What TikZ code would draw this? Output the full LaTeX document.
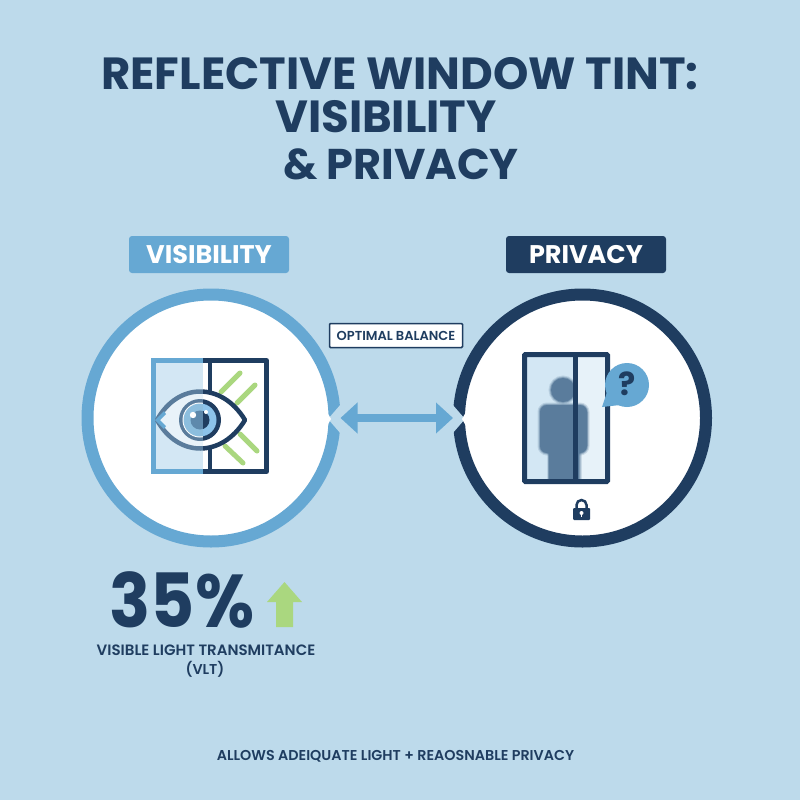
\documentclass[tikz,border=0pt]{standalone}
\usepackage{fontspec}
\setmainfont{Poppins}
\newfontfamily\semifont{Poppins SemiBold}
\usetikzlibrary{arrows.meta}
\definecolor{bgblue}{HTML}{BDDAEB}
\definecolor{navy}{HTML}{1F3D60}
\definecolor{midblue}{HTML}{66A8D3}
\definecolor{paleblue}{HTML}{D3E7F4}
\definecolor{softgreen}{HTML}{AAD77F}
\definecolor{blurblue}{HTML}{5A7C9C}
\definecolor{irisblue}{HTML}{8CC3EA}
\newcommand{\eyeshape}{(157,420) .. controls (178,382) and (222,382) .. (245,420) .. controls (222,458) and (178,458) .. (157,420) -- cycle}
\tikzset{
    titletext/.style={text=navy, font=\fontsize{45}{45}\selectfont\bfseries, inner sep=0pt},
    badge/.style={minimum width=160pt, minimum height=37pt, inner sep=0pt, rounded corners=3pt, text=white, font=\fontsize{25.5}{25.5}\selectfont\bfseries},
    ring/.style={circle, fill=white, line width=12pt, minimum size=247pt, inner sep=0pt},
    smalltext/.style={text=navy, font=\fontsize{14.3}{14.3}\selectfont\semifont, inner sep=0pt},
    sunline/.style={softgreen, line width=5pt, line cap=round},
}
\begin{document}
\begin{tikzpicture}[x=1pt,y=-1pt]
        \fill[bgblue] (0,0) rectangle (800,800);
        \useasboundingbox (0,0) rectangle (800,800);

        \node[titletext] (title1) at (400, 74) {REFLECTIVE WINDOW TINT:};
        \node[titletext] (title2) at (386, 117) {VISIBILITY};
        \node[titletext, font=\fontsize{43}{43}\selectfont\bfseries] (title3) at (401, 164) {\& PRIVACY};

        \node[badge, fill=midblue] (visbadge) at (209, 254.5) {VISIBILITY};
        \node[badge, fill=navy] (privbadge) at (586, 254.5) {PRIVACY};

        \node[ring, draw=midblue] (vis) at (211, 418) {};
        \node[ring, draw=navy] (priv) at (582.5, 418) {};

        % notches in the rings
        \fill[bgblue] (328,419) -- (341,404) -- (341,434) -- cycle;
        \fill[bgblue] (465,419) -- (452,404) -- (452,434) -- cycle;
        \fill[white] (327,412) -- (331,419) -- (327,426) -- cycle;
        \fill[white] (466,412) -- (462,419) -- (466,426) -- cycle;

        \draw[{Triangle[width=30pt,length=17pt]}-{Triangle[width=30pt,length=17pt]}, midblue, line width=8pt] (vis.east) -- (priv.west);

        \node[draw=navy, fill=white, line width=1.5pt, rounded corners=1pt, minimum width=133pt, minimum height=24pt, inner sep=0pt, text=navy, font=\fontsize{13}{13}\selectfont\semifont] (balance) at (396, 335.5) {OPTIMAL BALANCE};

        % left window
        \fill[paleblue] (153,360) rectangle (203,472);
        \draw[midblue, line width=5pt] (203,360.5) -- (153.5,360.5) -- (153.5,471.5) -- (203,471.5);
        \draw[navy, line width=5pt, line join=round] (203,360.5) -- (266.5,360.5) -- (266.5,471.5) -- (203,471.5);
        \draw[navy, line width=4.5pt] (210,360) -- (210,472);
        \fill[navy] (203,358) rectangle (212,363);
        \fill[navy] (203,469) rectangle (212,474);

        \draw[sunline] (221,392) -- (240,373);
        \draw[sunline] (237,403) -- (255,385);
        \draw[sunline] (240,434) -- (257,451);
        \draw[sunline] (225,446) -- (243,463);

        % eye
        \fill[white] \eyeshape;
        \begin{scope}
            \clip (140,380) rectangle (203,460);
            \fill[paleblue, opacity=0.5] \eyeshape;
            \draw[blurblue, line width=4.5pt, line join=round] \eyeshape;
            \fill[blurblue] (200,420) circle [radius=21];
            \fill[white] (200,420) circle [radius=17.5];
            \fill[midblue!75!white] (200,420) circle [radius=16.5];
            \fill[blurblue!70!midblue] (200,420) circle [radius=9.5];
        \end{scope}
        \begin{scope}
            \clip (203,380) rectangle (260,460);
            \draw[navy, line width=4.5pt, line join=round] \eyeshape;
            \fill[navy] (200,420) circle [radius=21];
            \fill[irisblue] (200,420) circle [radius=16.5];
            \fill[navy] (200,420) circle [radius=9.5];
        \end{scope}
        \fill[midblue] (155,420) -- (164,411) -- (166,414) -- (160,420) -- (166,426) -- (164,429) -- cycle;
        \fill[white] (193,415) circle [radius=3.2];
        \fill[white] (206,412) circle [radius=2];

        % right window
        \fill[paleblue] (524,354) rectangle (575,482);
        \fill[paleblue!55!white] (575,354) rectangle (608,482);
        % blurred person
        \foreach \w/\o in {5/0.2, 3/0.3, 1.5/0.5} {
            \draw[blurblue, line width=\w pt, opacity=\o] (563,390) circle [radius=12];
            \draw[blurblue, line width=\w pt, opacity=\o, rounded corners=7pt] (540,405) rectangle (587,453);
            \draw[blurblue, line width=\w pt, opacity=\o] (549,453) -- (549,480);
            \draw[blurblue, line width=\w pt, opacity=\o] (579,453) -- (579,480);
        }
        \fill[blurblue] (563,390) circle [radius=12];
        \fill[blurblue, rounded corners=7pt] (540,405) rectangle (587,453);
        \fill[blurblue] (549,445) rectangle (579,480);
        \draw[navy, line width=5pt, rounded corners=1pt] (524.5,354.5) rectangle (607.5,481.5);
        \draw[navy, line width=5pt] (575,354) -- (575,482);

        % speech bubble
        \fill[midblue] (627,385) circle [radius=22];
        \fill[midblue] (602,407) -- (607,392) -- (620,405) -- cycle;
        \node[text=navy, font=\fontsize{32}{32}\selectfont\bfseries, inner sep=0pt] (question) at (627, 384) {?};

        % lock
        \draw[navy, line width=2.5pt] (576.5,509) -- (576.5,505) arc [start angle=180, end angle=360, radius=5] -- (586.5,509);
        \fill[navy, rounded corners=1pt] (573,508) rectangle (590,520);
        \fill[white] (581.5,513) circle [radius=2];
        \fill[white] (580.7,513) rectangle (582.3,517);

        \node[text=navy, font=\fontsize{68}{68}\selectfont\bfseries, inner sep=0pt, text height=48pt, text depth=0pt, anchor=base, yscale=1.1, transform shape] (pct) at (182, 627) {35\%};
        \fill[softgreen] (284.5,582) -- (302,602) -- (293,602) -- (293,627) -- (276,627) -- (276,602) -- (267,602) -- cycle;

        \node[smalltext, font=\fontsize{15}{15}\selectfont\semifont] (vlt1) at (206, 650) {VISIBLE LIGHT TRANSMITANCE};
        \node[smalltext] (vlt2) at (205, 669) {(VLT)};

        \node[smalltext] (bottom) at (395.5, 756) {ALLOWS ADEIQUATE LIGHT + REAOSNABLE PRIVACY};
\end{tikzpicture}
\end{document}
